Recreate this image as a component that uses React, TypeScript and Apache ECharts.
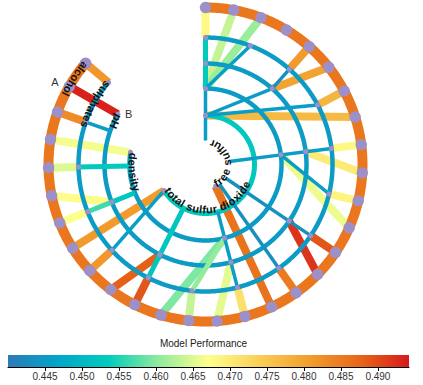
import React, { useEffect, useRef } from "react";
import * as echarts from "echarts";

// ---------- data ----------
const PALETTE = ["#2c7bb6", "#00a6ca", "#00ccbc", "#90eb9d", "#ffff8c", "#f9d057", "#f29e2e", "#e76818", "#d7191c"];
const VALUE_MIN = 0.44;
const VALUE_MAX = 0.4942;
const TICK_STEP = 0.005;
const COLORBAR_TITLE = "Model Performance";

const FEATURES = ["free sulfur", "total sulfur dioxide", "density", "pH", "sulphates", "alcohol"];
// last slot reached by each ring (rings 1..6)
const RING_END_POS = [15, 23, 27, 29, 30, 30];
// performance colour of rings 2..6
const RING_VALUE = [0.4528, 0.445, 0.445, 0.445, 0.4855];
const LEAF_COUNT = 31;

// leaf edges: [fromRing, fromSlot, leafSlot, performance]
const LEAF_EDGES = [
  [5, 0, 0, 0.468],
  [3, 0, 1, 0.4635],
  [3, 0, 2, 0.461],
  [5, 4, 4, 0.481],
  [4, 4, 5, 0.48],
  [5, 6, 6, 0.4775],
  [2, 0, 7, 0.477],
  [5, 8, 8, 0.468],
  [4, 8, 9, 0.47],
  [5, 10, 10, 0.4685],
  [3, 8, 11, 0.466],
  [5, 12, 12, 0.489],
  [4, 12, 13, 0.492],
  [5, 14, 14, 0.485],
  [1, 15, 15, 0.486],
  [5, 16, 16, 0.4715],
  [4, 16, 17, 0.4655],
  [5, 18, 18, 0.4635],
  [3, 16, 19, 0.4595],
  [5, 20, 20, 0.489],
  [4, 20, 21, 0.488],
  [5, 22, 22, 0.4815],
  [2, 23, 23, 0.481],
  [5, 24, 24, 0.467],
  [4, 24, 25, 0.4675],
  [5, 26, 26, 0.465],
  [3, 27, 27, 0.4665],
  [5, 28, 28, 0.483],
  [4, 29, 29, 0.4935],
  [5, 30, 30, 0.4815],
];

// inner edges: [fromRing, fromSlot, toRing, toSlot, performance]
const MID_EDGES = [
  [3, 0, 4, 0, 0.453],
  [4, 0, 5, 0, 0.453],
  [2, 20, 4, 20, 0.4525],
  [4, 20, 5, 20, 0.4525],
  [3, 24, 4, 24, 0.4525],
  [4, 24, 5, 24, 0.4565],
  [3, 26, 5, 26, 0.453],
  [3, 16, 5, 18, 0.4605],
];
const THIN_EDGES = [
  [1, 0, 2, 0, 0.4455],
  [2, 0, 3, 0, 0.4455],
  [3, 0, 5, 2, 0.4455],
  [2, 0, 4, 4, 0.445],
  [4, 4, 5, 4, 0.4435],
  [2, 0, 5, 6, 0.4455],
  [1, 8, 3, 8, 0.4455],
  [3, 8, 4, 8, 0.4455],
  [4, 8, 5, 8, 0.4455],
  [3, 8, 5, 10, 0.4455],
  [1, 12, 4, 12, 0.4435],
  [4, 12, 5, 12, 0.4435],
  [1, 14, 5, 14, 0.4435],
  [2, 16, 3, 16, 0.4455],
  [3, 16, 4, 16, 0.4455],
  [4, 16, 5, 16, 0.4455],
  [2, 23, 5, 22, 0.4455],
  [4, 28, 5, 28, 0.4455],
];

// inner nodes: [ring, slot]
const INNER_NODES = [
  [2, 0], [3, 0], [4, 0], [5, 0], [5, 2], [4, 4], [5, 4], [5, 6], [3, 8], [4, 8], [5, 8], [5, 10],
  [4, 12], [5, 12], [5, 14], [1, 15], [3, 16], [4, 16], [5, 16], [5, 18], [4, 20], [5, 20], [5, 22],
  [2, 23], [4, 24], [5, 24], [5, 26], [3, 27], [5, 28], [4, 29], [5, 30],
];
const MARKERS = ["A", "B"];

// ---------- layout ----------
const RING_RADIUS = [24, 49, 76, 101, 127, 157];
const LABEL_INSET = [2.5, 4, 3, 1.5, 0, 0.5];
const DEG_PER_SLOT = 10.34;
const NODE_COLOR = "#9d8fc8";
const LABEL_FONT = 'bold 11px "Liberation Sans"';

export default function App() {
  const ref = useRef<HTMLDivElement>(null);

  useEffect(() => {
    if (!ref.current) return;
    const chart = echarts.init(ref.current, undefined, { renderer: "svg" });
    const measure = document.createElement("canvas").getContext("2d")!;
    measure.font = LABEL_FONT;

    const polarBase = {
      type: "custom",
      coordinateSystem: "polar",
      polarIndex: 0,
      silent: true,
      encode: { radius: 1, angle: 2 },
    };

    const edgeSeries = (data: number[][], width: number) => ({
      ...polarBase,
      data,
      renderItem: (_p: any, api: any) => {
        const a = api.coord([RING_RADIUS[api.value(1) - 1], api.value(2)]);
        const b = api.coord([RING_RADIUS[api.value(3) - 1], api.value(4)]);
        return {
          type: "line",
          shape: { x1: a[0], y1: a[1], x2: b[0], y2: b[1] },
          style: { stroke: api.visual("color"), lineWidth: width, lineCap: "butt" },
        };
      },
    });

    const leafData = LEAF_EDGES.map(([fr, fp, lp, v]) => [v, fr, fp, 6, lp]);
    const midData = MID_EDGES.map(([fr, fp, tr, tp, v]) => [v, fr, fp, tr, tp]);
    const thinData = THIN_EDGES.map(([fr, fp, tr, tp, v]) => [v, fr, fp, tr, tp]);
    const ringData = RING_VALUE.map((v, i) => [v, i + 2, RING_END_POS[i + 1]]);
    const nodeData = [
      ...INNER_NODES.map(([r, p]) => [r, p]),
      ...Array.from({ length: LEAF_COUNT }, (_, i) => [6, i]),
    ];

    const gradientStops = PALETTE.map((c, i) => ({ offset: i / (PALETTE.length - 1), color: c }));

    chart.setOption({
      animation: false,
      polar: { center: [205.5, 164.5], radius: [0, 157] },
      radiusAxis: { type: "value", min: 0, max: 157, show: false },
      angleAxis: {
        type: "value",
        min: 0,
        max: 360 / DEG_PER_SLOT,
        startAngle: 90,
        clockwise: true,
        show: false,
      },
      grid: { left: 8, width: 401, top: 355, height: 12 },
      xAxis: {
        type: "value",
        min: VALUE_MIN,
        max: VALUE_MAX,
        interval: TICK_STEP,
        position: "bottom",
        axisLine: { show: true, lineStyle: { color: "#000", width: 1.2 } },
        axisTick: { show: true, length: 4, lineStyle: { color: "#000" } },
        splitLine: { show: false },
        axisLabel: {
          fontSize: 10,
          color: "#333",
          margin: 4,
          fontFamily: "Liberation Sans",
          showMinLabel: false,
          showMaxLabel: false,
          formatter: (v: number) => v.toFixed(3),
        },
      },
      yAxis: { type: "value", min: 0, max: 1, show: false },
      visualMap: {
        type: "continuous",
        show: false,
        min: VALUE_MIN,
        max: VALUE_MAX,
        dimension: 0,
        seriesIndex: [0, 1, 2, 3],
        inRange: { color: PALETTE },
      },
      graphic: [
        {
          type: "text",
          x: 203.5,
          y: 343,
          style: {
            text: COLORBAR_TITLE,
            fontSize: 10,
            fontFamily: "Liberation Sans",
            fill: "#222",
            align: "center",
            verticalAlign: "middle",
          },
        },
      ],
      series: [
        edgeSeries(leafData, 8),
        {
          ...polarBase,
          data: ringData,
          renderItem: (_p: any, api: any) => {
            const ring = api.value(1);
            const end = api.value(2);
            const r = RING_RADIUS[ring - 1];
            const pts: number[][] = [];
            for (let s = 0; s < end; s += 0.05) pts.push(api.coord([r, s]));
            pts.push(api.coord([r, end]));
            return {
              type: "polyline",
              shape: { points: pts },
              style: {
                stroke: api.visual("color"),
                fill: null,
                lineWidth: ring === 6 ? 10 : ring === 2 ? 5 : 4.5,
              },
            };
          },
        },
        edgeSeries(midData, 5),
        edgeSeries(thinData, 3.5),
        {
          ...polarBase,
          encode: { radius: 0, angle: 1 },
          data: nodeData,
          renderItem: (_p: any, api: any) => {
            const ring = api.value(0);
            const c = api.coord([RING_RADIUS[ring - 1], api.value(1)]);
            return {
              type: "circle",
              shape: { cx: c[0], cy: c[1], r: ring === 6 ? 5.7 : 2.6 },
              style: { fill: NODE_COLOR },
            };
          },
        },
        {
          ...polarBase,
          encode: { radius: 0, angle: 1 },
          data: FEATURES.map((_, i) => [i, 0]),
          renderItem: (params: any, api: any) => {
            const i = api.value(0);
            const text = FEATURES[i];
            const rt = RING_RADIUS[i] - LABEL_INSET[i];
            const end = RING_END_POS[i];
            const cs = params.coordSys;
            let cum = 0;
            const children: any[] = [];
            for (const ch of text) {
              const w = measure.measureText(ch).width;
              const deg = ((cum + w / 2) / rt) * (180 / Math.PI);
              const slot = end - deg / DEG_PER_SLOT;
              const [x, y] = api.coord([rt, slot]);
              const phi = Math.atan2(-(y - cs.cy), x - cs.cx);
              children.push({
                type: "text",
                x,
                y,
                rotation: phi + Math.PI / 2,
                style: {
                  text: ch,
                  fill: "#111",
                  fontSize: 11,
                  fontWeight: "bold",
                  fontFamily: "Liberation Sans",
                  align: "center",
                  verticalAlign: "middle",
                },
              });
              cum += w;
            }
            return { type: "group", children };
          },
        },
        {
          ...polarBase,
          encode: { radius: 0, angle: 1 },
          data: MARKERS.map((_, i) => [i, 0]),
          renderItem: (params: any, api: any) => {
            const i = api.value(0);
            const cs = params.coordSys;
            const base = i === 0 ? api.coord([157, 28.9]) : api.coord([101, 29.35]);
            const f = i === 0 ? 172 / 157 : 92 / 101;
            const x = cs.cx + (base[0] - cs.cx) * f;
            const y = cs.cy + (base[1] - cs.cy) * f;
            return {
              type: "text",
              x,
              y,
              style: {
                text: MARKERS[i],
                fill: "#333",
                fontSize: 11,
                fontFamily: "Liberation Sans",
                align: "center",
                verticalAlign: "middle",
              },
            };
          },
        },
        {
          type: "custom",
          coordinateSystem: "cartesian2d",
          silent: true,
          data: [[VALUE_MIN, 0]],
          renderItem: (_p: any, api: any) => {
            const a = api.coord([VALUE_MIN, 1]);
            const b = api.coord([VALUE_MAX, 0]);
            return {
              type: "rect",
              shape: { x: a[0], y: a[1], width: b[0] - a[0], height: b[1] - a[1] },
              style: { fill: new echarts.graphic.LinearGradient(0, 0, 1, 0, gradientStops) },
            };
          },
        },
      ],
    });

    return () => chart.dispose();
  }, []);

  return (
    <div
      ref={ref}
      style={{ position: "absolute", left: 0, top: 0, width: 423, height: 385, background: "#fff" }}
    />
  );
}
